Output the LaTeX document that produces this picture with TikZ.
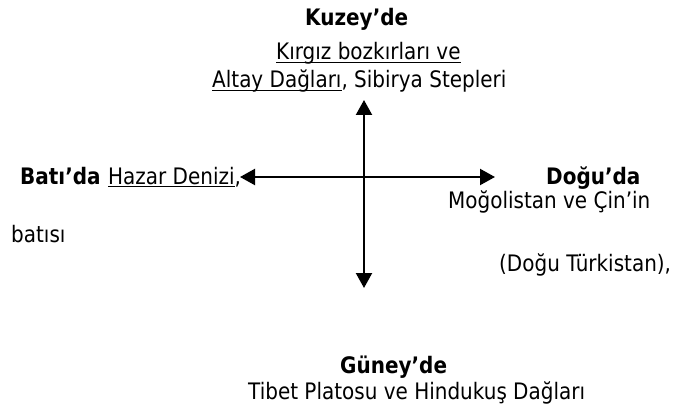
\documentclass[tikz,border=0pt]{standalone}
\usepackage{fontspec}
\setmainfont{DejaVu Sans}[FakeStretch=0.88]
\usetikzlibrary{positioning, arrows.meta}
\newcommand{\alticizgi}[1]{\setbox0\hbox{#1}\rlap{\rule[-3pt]{\wd0}{1.4pt}}\box0}
\tikzset{
    x=1pt, y=-1pt, % one unit is one pixel of the page
    yazi/.style={inner sep=0pt, anchor=base west, font=\fontsize{22.7}{27}\selectfont}, % plain text lines
    baslik/.style={yazi, font=\fontsize{22.7}{27}\selectfont\bfseries}, % the bold direction words
    ok/.style={line width=2.2pt, {Triangle[length=15pt,width=16pt]}-{Triangle[length=15pt,width=16pt]}}, % double headed arrows
}

\begin{document}
\begin{tikzpicture}
    \useasboundingbox (0,0) rectangle (688,409);
    \node[baslik] (kuzey) at (305,26) {Kuzey’de};
    \node[yazi] (kirgiz) at (276,60) {\alticizgi{Kırgız bozkırları ve}};
    \node[yazi] (altay) at (212,88) {\alticizgi{Altay Dağları}, Sibirya Stepleri};
    \node[baslik] (bati) at (20,184) {Batı’da};
    \node[yazi] (hazar) at (108,184) {\alticizgi{Hazar Denizi},};
    \node[yazi] (batisi) at (11,242) {batısı};
    \node[baslik] (dogu) at (546,184) {Doğu’da};
    \node[yazi] (mogol) at (448,208) {Moğolistan ve Çin’in};
    \node[yazi] (turkistan) at (499,271) {(Doğu Türkistan),};
    \node[baslik] (guney) at (340,373) {Güney’de};
    \node[yazi] (tibet) at (248,399) {Tibet Platosu ve Hindukuş Dağları};
    \coordinate (ust) at (364,100);
    \coordinate (alt) at (364,288);
    \coordinate (sol) at (240,177);
    \coordinate (sag) at (495,177);
    \draw[ok] (ust) -- (alt);
    \draw[ok] (sol) -- (sag);
\end{tikzpicture}
\end{document}
